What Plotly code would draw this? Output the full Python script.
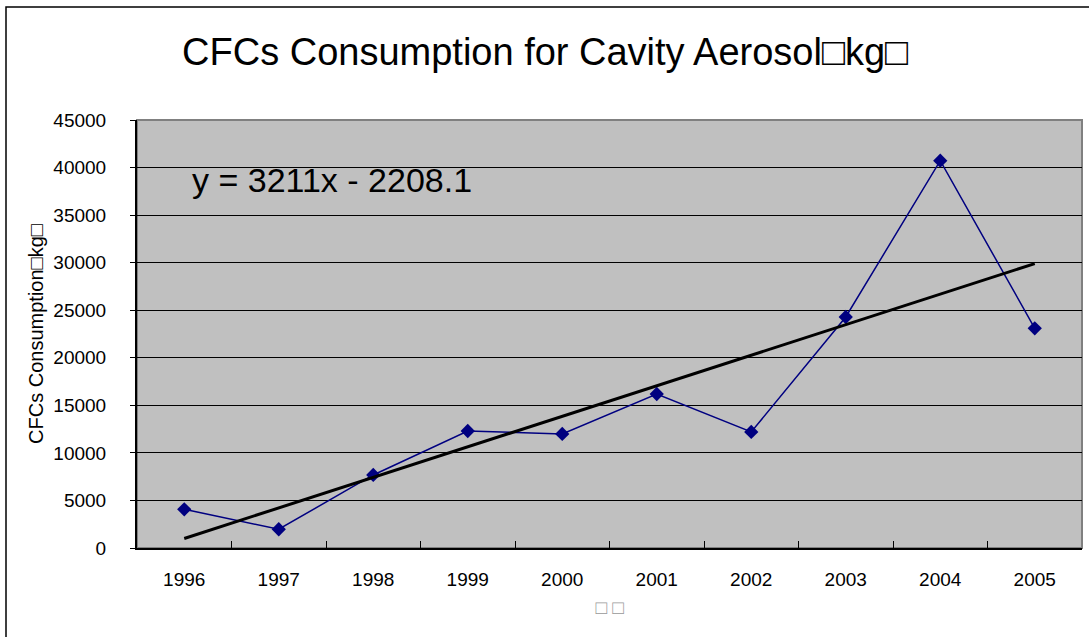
import plotly.graph_objects as go

years = ["1996", "1997", "1998", "1999", "2000", "2001", "2002", "2003", "2004", "2005"]
consumption = [4070, 1970, 7680, 12300, 11990, 16190, 12200, 24290, 40720, 23100]
trend_slope = 3211
trend_intercept = -2208.1
y_ticks = [0, 5000, 10000, 15000, 20000, 25000, 30000, 35000, 40000, 45000]
y_tick_labels = [str(v) for v in y_ticks]

trend_vals = [trend_slope * (i + 1) + trend_intercept for i in range(len(years))]

fig = go.Figure()
fig.add_trace(go.Scatter(
    x=years, y=consumption, mode="lines+markers",
    line=dict(color="#000080", width=1.5),
    marker=dict(symbol="diamond", size=11, color="#000080"),
    showlegend=False, cliponaxis=False,
))
fig.add_trace(go.Scatter(
    x=years, y=trend_vals, mode="lines",
    line=dict(color="black", width=3),
    showlegend=False,
))

W, H = 1089, 637
L, R, T, B = 137, 7, 120, 89
pw, ph = W - L - R, H - T - B

def px_x(p):
    return (p - L) / pw

def px_y(p):
    return (H - B - p) / ph

fig.update_layout(
    width=W, height=H,
    margin=dict(l=L, r=R, t=T, b=B),
    paper_bgcolor="white", plot_bgcolor="#C0C0C0",
    font=dict(family="Arial, Liberation Sans, sans-serif", color="black"),
    title=dict(
        text="CFCs Consumption for Cavity Aerosol□kg□",
        x=545 / W, xanchor="center", xref="container",
        y=1 - 52 / H, yanchor="middle", yref="container",
        font=dict(family="Arial, Liberation Sans, sans-serif", size=38, color="black"),
    ),
    xaxis=dict(
        type="category", range=[-0.5, 9.5],
        showline=True, linecolor="black", linewidth=2,
        ticks="inside", ticklen=7, tickcolor="black", tickwidth=1,
        tickson="boundaries", showgrid=False, zeroline=False,
        tickfont=dict(size=19, color="black"),
        ticklabelstandoff=13,
        title=dict(text="□ □", font=dict(size=19, color="#999999"), standoff=12),
    ),
    yaxis=dict(
        range=[0, 45000], tickvals=y_ticks, ticktext=y_tick_labels,
        showline=True, linecolor="black", linewidth=2,
        ticks="outside", ticklen=5, tickcolor="black",
        showgrid=True, gridcolor="black", gridwidth=1, zeroline=False,
        tickfont=dict(size=19, color="black"),
        ticklabelstandoff=20,
        title=dict(text="CFCs Consumption□kg□",
                   font=dict(size=20, color="black"),
                   standoff=4),
    ),
    shapes=[
        dict(type="rect", xref="paper", yref="paper", x0=0, x1=1, y0=0, y1=1,
             line=dict(color="#808080", width=2), layer="below"),
        dict(type="rect", xref="paper", yref="paper",
             x0=px_x(6), x1=px_x(W + 20), y0=px_y(H + 20), y1=px_y(7),
             line=dict(color="black", width=1.5), layer="above"),
    ],
    annotations=[
        dict(text="y = 3211x - 2208.1", xref="paper", yref="paper",
             x=px_x(190), y=px_y(180), xanchor="left", yanchor="middle",
             showarrow=False, font=dict(size=34, color="black")),
    ],
)

fig.write_html("out.html", config={"displayModeBar": False},
               post_script="document.body.style.margin='0';document.body.style.overflow='hidden';")
